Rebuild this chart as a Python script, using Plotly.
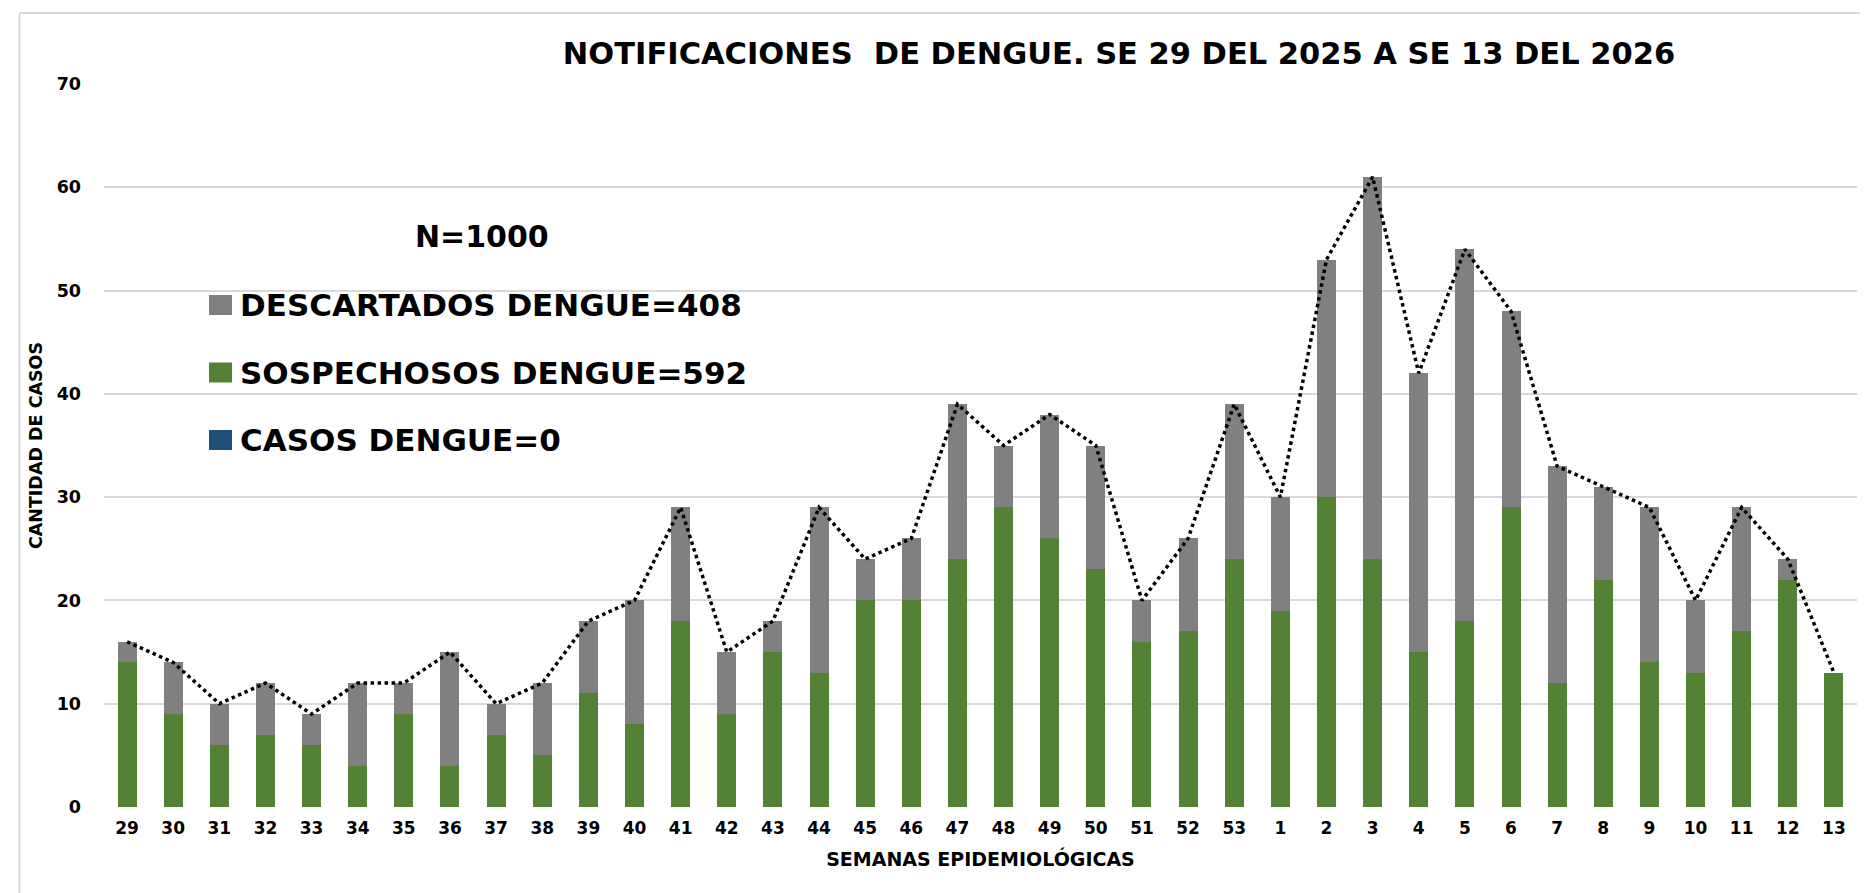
import plotly.graph_objects as go

semanas = ["29", "30", "31", "32", "33", "34", "35", "36", "37", "38", "39", "40",
           "41", "42", "43", "44", "45", "46", "47", "48", "49", "50", "51", "52",
           "53", "1", "2", "3", "4", "5", "6", "7", "8", "9", "10", "11", "12", "13"]
sospechosos = [14, 9, 6, 7, 6, 4, 9, 4, 7, 5, 11, 8,
               18, 9, 15, 13, 20, 20, 24, 29, 26, 23, 16, 17,
               24, 19, 30, 24, 15, 18, 29, 12, 22, 14, 13, 17, 22, 13]
descartados = [2, 5, 4, 5, 3, 8, 3, 11, 3, 7, 7, 12,
               11, 6, 3, 16, 4, 6, 15, 6, 12, 12, 4, 9,
               15, 11, 23, 37, 27, 36, 19, 21, 9, 15, 7, 12, 2, 0]
casos = [0] * len(semanas)
totales = [s + d + c for s, d, c in zip(sospechosos, descartados, casos)]

titulo = "NOTIFICACIONES  DE DENGUE. SE 29 DEL 2025 A SE 13 DEL 2026"
leyenda_n = "N=1000"
leyenda = [("DESCARTADOS DENGUE=408", "#808080"),
           ("SOSPECHOSOS DENGUE=592", "#548235"),
           ("CASOS DENGUE=0", "#1F4E79")]

FONT = "DejaVu Sans"
W, H = 1868, 893
ML, MR, MT, MB = 96, 19, 76, 94
PW, PH = W - ML - MR, H - MT - MB


def px(x):
    return (x - ML) / PW


def py(y):
    return (H - MB - y) / PH


fig = go.Figure()
fig.add_trace(go.Bar(x=semanas, y=casos, marker_color="#1F4E79", showlegend=False))
fig.add_trace(go.Bar(x=semanas, y=sospechosos, marker_color="#548235",
                     marker_line_width=0, showlegend=False))
fig.add_trace(go.Bar(x=semanas, y=descartados, marker_color="#808080",
                     marker_line_width=0, showlegend=False))
fig.add_trace(go.Scatter(x=semanas, y=totales, mode="lines",
                         line=dict(color="black", width=3.5, dash="dot"),
                         showlegend=False))

shapes = [
    dict(type="line", xref="paper", yref="paper", x0=px(11.5), x1=px(1868), y0=py(5), y1=py(5),
         line=dict(color="#d9d9d9", width=2)),
    dict(type="line", xref="paper", yref="paper", x0=px(11.5), x1=px(11.5), y0=py(5), y1=py(893),
         line=dict(color="#d9d9d9", width=2)),
]
annotations = [
    dict(text=f"<b>{leyenda_n}</b>", xref="paper", yref="paper", x=px(474), y=py(228),
         xanchor="center", yanchor="middle", showarrow=False,
         font=dict(family=FONT, size=30, color="black")),
]
ycent = [297, 364.5, 432]
for (txt, col), yc in zip(leyenda, ycent):
    shapes.append(dict(type="rect", xref="paper", yref="paper",
                       x0=px(201), x1=px(224), y0=py(yc - 10), y1=py(yc + 10),
                       fillcolor=col, line=dict(width=0)))
    annotations.append(dict(text=f"<b>{txt}</b>", xref="paper", yref="paper",
                            x=px(230), y=py(yc), xanchor="left", yanchor="middle",
                            showarrow=False, font=dict(family=FONT, size=31, color="black")))

fig.update_layout(
    width=W, height=H,
    margin=dict(l=ML, r=MR, t=MT, b=MB),
    paper_bgcolor="white", plot_bgcolor="white",
    barmode="stack", bargap=0.588,
    font=dict(family=FONT, color="black"),
    title=dict(text=f"<b>{titulo}</b>", x=px(1111), xref="paper", xanchor="center",
               y=1 - 45 / H, yref="container", yanchor="middle",
               font=dict(family=FONT, size=30.5, color="black")),
    xaxis=dict(type="category", tickfont=dict(family=FONT, size=17, color="black"),
               ticklabelstandoff=9, showgrid=False, showline=False, zeroline=False,
               title=dict(text="<b>SEMANAS EPIDEMIOLÓGICAS</b>", standoff=15,
                          font=dict(family=FONT, size=19, color="black"))),
    yaxis=dict(range=[0, 70], dtick=10, tickfont=dict(family=FONT, size=17.5, color="black"),
               showgrid=True, gridcolor="#d9d9d9", gridwidth=2,
               zeroline=False, showline=False, ticklabelstandoff=22,
               title=dict(text="<b>CANTIDAD DE CASOS</b>", standoff=9,
                          font=dict(family=FONT, size=17.5, color="black"))),
    shapes=shapes, annotations=annotations,
)
fig.update_yaxes(tickprefix="<b>", ticksuffix="</b>", tickformat="d")
fig.update_xaxes(tickprefix="<b>", ticksuffix="</b>")

fig.write_html("out.html")
